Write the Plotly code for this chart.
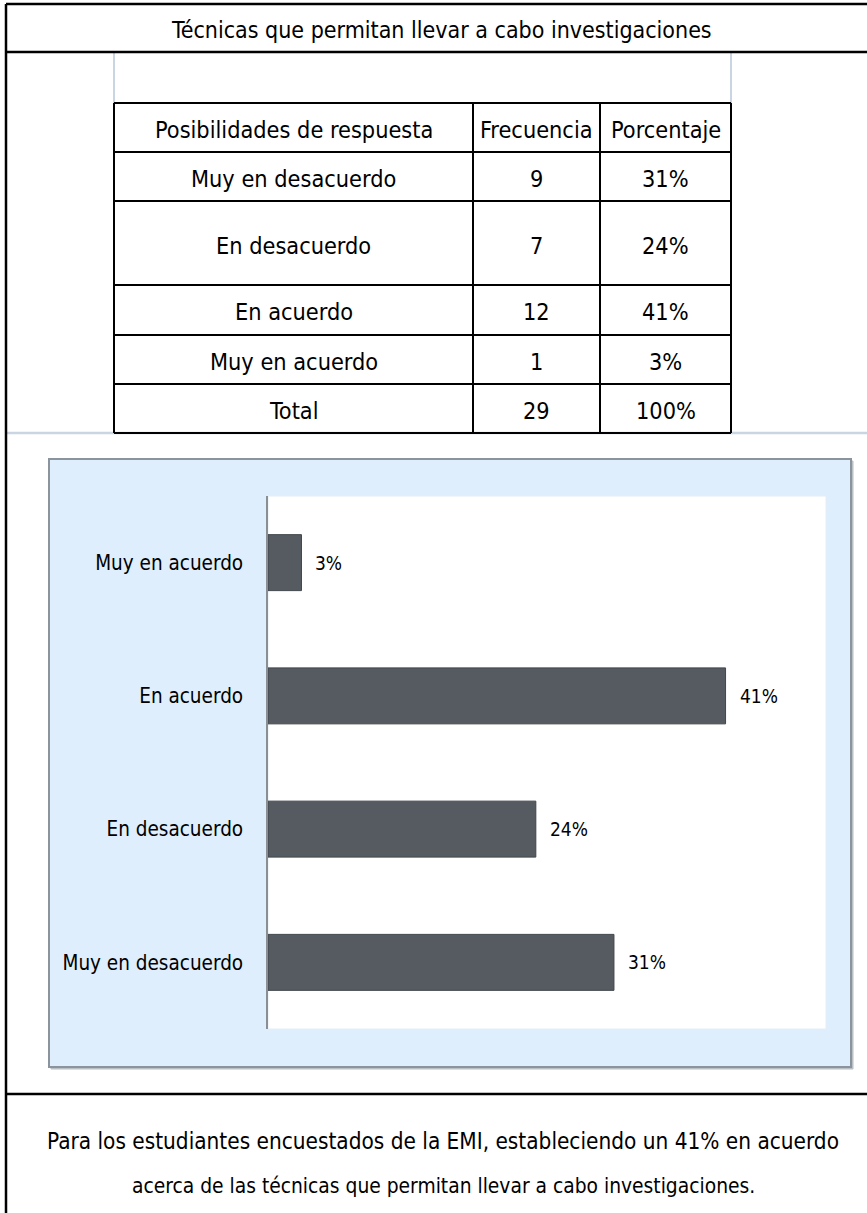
import plotly.graph_objects as go

# ---------------- data ----------------
title_text = "Técnicas que permitan llevar a cabo investigaciones"
header = ["Posibilidades de respuesta", "Frecuencia", "Porcentaje"]
categories = ["Muy en desacuerdo", "En desacuerdo", "En acuerdo", "Muy en acuerdo"]
frecuencia = [9, 7, 12, 1]
porcentaje = [31, 24, 41, 3]
total_label = "Total"
total_frecuencia = 29
total_porcentaje = 100
conclusion = ["Para los estudiantes encuestados de la EMI, estableciendo un 41% en acuerdo",
              "acerca de las técnicas que permitan llevar a cabo investigaciones."]

# ---------------- layout helpers ----------------
W, H = 867, 1213
FONT = "DejaVu Sans Condensed, DejaVu Sans, sans-serif"


def px(x):
    return x / W


def py(y):
    return 1 - y / H


shapes = []
annotations = []


def line(x0, y0, x1, y1, color="black", width=2):
    shapes.append(dict(type="line", xref="paper", yref="paper",
                       x0=px(x0), y0=py(y0), x1=px(x1), y1=py(y1),
                       line=dict(color=color, width=width)))


def rect(x0, y0, x1, y1, fill, color, width):
    shapes.append(dict(type="rect", xref="paper", yref="paper", layer="below",
                       x0=px(x0), y0=py(y0), x1=px(x1), y1=py(y1),
                       fillcolor=fill, line=dict(color=color, width=width)))


def text(x, y, s, size, color="black"):
    annotations.append(dict(xref="paper", yref="paper", x=px(x), y=py(y), text=s,
                            showarrow=False, xanchor="center", yanchor="middle",
                            font=dict(family=FONT, size=size, color=color)))


# chart box (with faint shadow) and white plot area (drawn below)
rect(51, 461, 853, 1069, "#B9C0C6", "#B9C0C6", 1)
rect(49, 459, 851, 1067, "#DFEEFC", "#8B949C", 2)
rect(268, 496, 826, 1029, "white", "#E4EEF8", 1)

# light grid lines of the sheet
line(114, 52, 114, 103, "#C9D5E2", 2)
line(731, 52, 731, 103, "#C9D5E2", 2)
line(6, 433, 867, 433, "#C9D5E2", 2.5)

# outer frame
line(6, 4, 867, 4, "black", 2.5)
line(6, 4, 6, 1213, "black", 2.5)
line(6, 52, 867, 52, "black", 2.5)
line(6, 1094, 867, 1094, "black", 2.5)

# table
tx = [114, 473, 600, 731]
ty = [103, 152, 201, 285, 335, 384, 433]
for y in ty:
    line(tx[0], y, tx[-1], y, "black", 2)
for x in tx:
    line(x, ty[0], x, ty[-1], "black", 2)

text(442, 30, title_text, 23)

col_c = [(tx[i] + tx[i + 1]) / 2 for i in range(3)]
row_c = [(ty[i] + ty[i + 1]) / 2 + 2 for i in range(len(ty) - 1)]

TS = 23.3
for j, h in enumerate(header):
    text(col_c[j], row_c[0], h, TS)
for i, c in enumerate(categories):
    text(col_c[0], row_c[i + 1], c, TS)
    text(col_c[1], row_c[i + 1], str(frecuencia[i]), TS)
    text(col_c[2], row_c[i + 1], f"{porcentaje[i]}%", TS)
text(col_c[0], row_c[5], total_label, TS)
text(col_c[1], row_c[5], str(total_frecuencia), TS)
text(col_c[2], row_c[5], f"{total_porcentaje}%", TS)

text(443, 1141, conclusion[0], 22.4)
text(443, 1186, conclusion[1], 20.8)

# ---------------- chart ----------------
fig = go.Figure()
fig.add_trace(go.Bar(
    y=categories, x=porcentaje, orientation="h",
    marker=dict(color="#555B61", line=dict(color="#40464B", width=1)),
    hoverinfo="skip",
))

for c, v in zip(categories, porcentaje):
    annotations.append(dict(xref="x", yref="y", x=v, y=c, text=f"{v}%",
                            showarrow=False, xanchor="left", yanchor="middle",
                            xshift=12, font=dict(family=FONT, size=19, color="black")))

fig.update_layout(
    width=W, height=H,
    margin=dict(l=0, r=0, t=0, b=0),
    paper_bgcolor="white",
    plot_bgcolor="rgba(0,0,0,0)",
    showlegend=False,
    bargap=0.58,
    shapes=shapes,
    annotations=annotations,
    font=dict(family=FONT, color="black"),
    xaxis=dict(domain=[px(268), px(826)], range=[0, 50], visible=False,
               showgrid=False, zeroline=False, fixedrange=True),
    yaxis=dict(domain=[py(1029), py(496)], showgrid=False, zeroline=False,
               showline=True, linecolor="#8A8F94", linewidth=1.5,
               ticks="", ticklabelstandoff=19,
               tickfont=dict(family=FONT, size=20.5, color="black"),
               categoryorder="array", categoryarray=categories, fixedrange=True),
)

fig.write_html("out.html", config=dict(displayModeBar=False),
               post_script="document.body.style.margin='0';")
